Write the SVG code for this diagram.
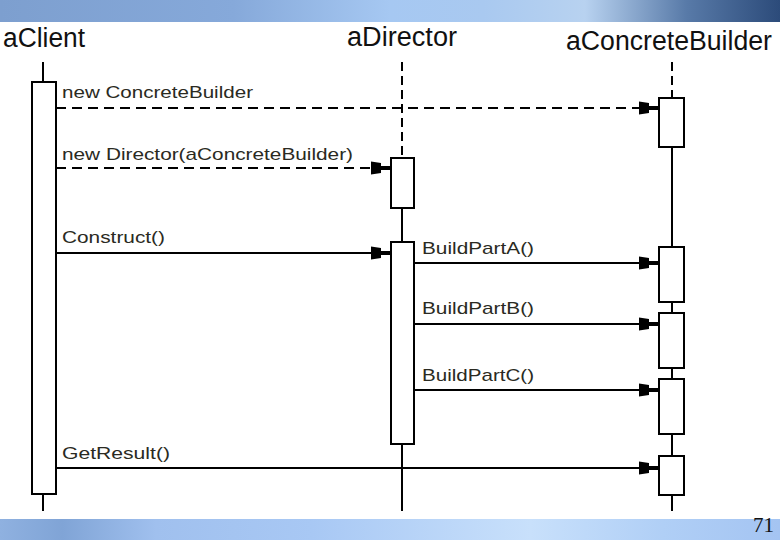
<svg xmlns="http://www.w3.org/2000/svg" width="780" height="540" viewBox="0 0 780 540">
<style>
.hdr{font-family:"Liberation Sans",Arial,sans-serif;font-size:27px;fill:#111}
.lbl{font-family:"Liberation Sans",Arial,sans-serif;font-size:17px;fill:#2a2a22}
.life{stroke:#000;stroke-width:2;fill:none}
.dash{stroke-dasharray:9 5}
.act{fill:#fff;stroke:#000;stroke-width:2}
.msg{stroke:#000;stroke-width:2;fill:none}
.mdash{stroke-dasharray:10 6}
</style>
<defs>
<linearGradient id="topg" x1="0" y1="0" x2="1" y2="0">
<stop offset="0" stop-color="#7d9fcf"/>
<stop offset="0.3" stop-color="#86a9da"/>
<stop offset="0.5" stop-color="#a6c8f2"/>
<stop offset="0.62" stop-color="#a9c9f0"/>
<stop offset="0.75" stop-color="#b8d2f0"/>
<stop offset="0.88" stop-color="#587aa8"/>
<stop offset="1" stop-color="#2c4b7a"/>
</linearGradient>
<linearGradient id="botg" x1="0" y1="0" x2="1" y2="0">
<stop offset="0" stop-color="#8fb1e0"/>
<stop offset="0.08" stop-color="#80a4d6"/>
<stop offset="0.2" stop-color="#a0c0ee"/>
<stop offset="0.4" stop-color="#a8c8f4"/>
<stop offset="0.68" stop-color="#c8e0fb"/>
<stop offset="0.85" stop-color="#b0cff6"/>
<stop offset="1" stop-color="#a4c4f2"/>
</linearGradient>
<marker id="ah" markerWidth="20" markerHeight="14" refX="19" refY="7" orient="auto" markerUnits="userSpaceOnUse">
<path d="M0,0.5 L10,2 L10,5 L19,5 L19,9 L10,9 L10,12 L0,13.5 Z" fill="#000"/>
</marker>
</defs>
<rect x="0" y="0" width="780" height="22" fill="url(#topg)"/>
<rect x="0" y="519" width="780" height="21" fill="url(#botg)"/>
<text x="753" y="532" font-family="'Liberation Serif',serif" font-size="21" fill="#111">71</text>

<g id="aClient">
<text class="hdr" x="3" y="47" textLength="82" lengthAdjust="spacingAndGlyphs">aClient</text>
<line class="life" x1="43" y1="62" x2="43" y2="82"/>
<rect class="act" x="32" y="82" width="24" height="412"/>
<line class="life" x1="43" y1="494" x2="43" y2="511"/>
</g>

<g id="aDirector">
<text class="hdr" x="347" y="46" textLength="110" lengthAdjust="spacingAndGlyphs">aDirector</text>
<line class="life dash" x1="402" y1="62" x2="402" y2="158"/>
<rect class="act" x="391" y="158" width="23" height="50"/>
<line class="life" x1="402" y1="208" x2="402" y2="242"/>
<rect class="act" x="391" y="242" width="23" height="202"/>
<line class="life" x1="402" y1="444" x2="402" y2="511"/>
</g>

<g id="aConcreteBuilder">
<text class="hdr" x="566" y="50" textLength="206" lengthAdjust="spacingAndGlyphs">aConcreteBuilder</text>
<line class="life dash" x1="672" y1="62" x2="672" y2="98"/>
<rect class="act" x="659" y="98" width="25" height="49"/>
<line class="life" x1="672" y1="147" x2="672" y2="247"/>
<rect class="act" x="659" y="247" width="25" height="55"/>
<line class="life" x1="672" y1="302" x2="672" y2="313"/>
<rect class="act" x="659" y="313" width="25" height="55"/>
<line class="life" x1="672" y1="368" x2="672" y2="379"/>
<rect class="act" x="659" y="379" width="25" height="55"/>
<line class="life" x1="672" y1="434" x2="672" y2="456"/>
<rect class="act" x="659" y="456" width="25" height="39"/>
<line class="life" x1="672" y1="495" x2="672" y2="511"/>
</g>

<g id="connectors">
<line class="msg mdash" x1="56" y1="108" x2="658" y2="108" marker-end="url(#ah)"/>
<text class="lbl" x="62" y="98" textLength="191" lengthAdjust="spacingAndGlyphs">new ConcreteBuilder</text>
<line class="msg mdash" x1="56" y1="168" x2="390" y2="168" marker-end="url(#ah)"/>
<text class="lbl" x="62" y="160" textLength="291" lengthAdjust="spacingAndGlyphs">new Director(aConcreteBuilder)</text>
<line class="msg" x1="56" y1="253" x2="390" y2="253" marker-end="url(#ah)"/>
<text class="lbl" x="62" y="243" textLength="103" lengthAdjust="spacingAndGlyphs">Construct()</text>
<line class="msg" x1="414" y1="263" x2="658" y2="263" marker-end="url(#ah)"/>
<text class="lbl" x="422" y="254" textLength="112" lengthAdjust="spacingAndGlyphs">BuildPartA()</text>
<line class="msg" x1="414" y1="324" x2="658" y2="324" marker-end="url(#ah)"/>
<text class="lbl" x="422" y="314" textLength="112" lengthAdjust="spacingAndGlyphs">BuildPartB()</text>
<line class="msg" x1="414" y1="390" x2="658" y2="390" marker-end="url(#ah)"/>
<text class="lbl" x="422" y="381" textLength="112" lengthAdjust="spacingAndGlyphs">BuildPartC()</text>
<line class="msg" x1="56" y1="468" x2="658" y2="468" marker-end="url(#ah)"/>
<text class="lbl" x="62" y="459" textLength="108" lengthAdjust="spacingAndGlyphs">GetResult()</text>
</g>
</svg>
